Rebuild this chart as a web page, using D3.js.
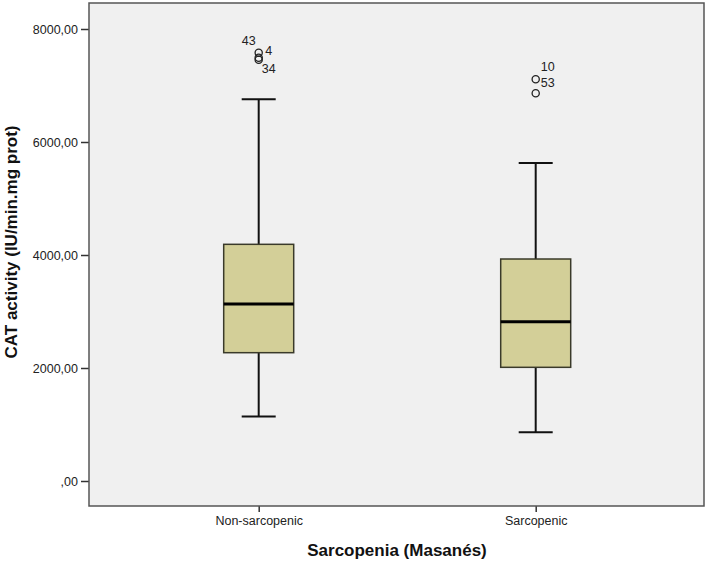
<!DOCTYPE html>
<html>
<head>
<meta charset="utf-8">
<script src="https://cdn.jsdelivr.net/npm/d3@7"></script>
<style>
  body { margin: 0; background: #fff; }
  text { font-family: "Liberation Sans", Arial, sans-serif; }
</style>
</head>
<body>
<div id="plot"></div>
<script>
// box plot data
const groups = ["Non-sarcopenic", "Sarcopenic"];
const whiskerLow = [1140, 862];
const q1 = [2271, 2012];
const median = [3133, 2819];
const q3 = [4189, 3929];
const whiskerHigh = [6755, 5628];
const outlierValues = [[7580, 7490, 7455], [7110, 6862]];
const yTicks = [0, 2000, 4000, 6000, 8000];

const w = 709;
const h = 562;
const plot = {left: 89, right: 704, top: 3, bottom: 506};

const svg = d3.select("div#plot")
    .append("svg")
    .attr("width", w)
    .attr("height", h);

const yScale = d3.scaleLinear()
    .domain([0, 8000])
    .range([481, 29]);

const xScale = d3.scalePoint()
    .domain(groups)
    .range([258.7, 535.7]);

const locale = d3.formatLocale({decimal: ",", thousands: "", grouping: [3], currency: ["", ""]});
const fmt = v => locale.format(".2f")(v).replace(/^0,/, ",");

svg.append("rect")
    .attr("x", plot.left)
    .attr("y", plot.top)
    .attr("width", plot.right - plot.left)
    .attr("height", plot.bottom - plot.top)
    .attr("fill", "#f0f0f0");

// y axis
const yAxis = d3.axisLeft(yScale)
    .tickValues(yTicks)
    .tickSize(8)
    .tickPadding(3)
    .tickFormat(fmt);

const gy = svg.append("g")
    .attr("transform", `translate(${plot.left},0)`)
    .call(yAxis);
gy.select(".domain").remove();
gy.selectAll("line").attr("stroke", "#333").attr("stroke-width", 1.5);
gy.selectAll("text").attr("font-size", 12.5).attr("fill", "#222")
    .attr("font-family", "Liberation Sans, Arial, sans-serif");

// x axis
const xAxis = d3.axisBottom(xScale)
    .tickSize(6)
    .tickPadding(4);

const gx = svg.append("g")
    .attr("transform", `translate(0,${plot.bottom})`)
    .call(xAxis);
gx.select(".domain").remove();
gx.selectAll("line").attr("stroke", "#333").attr("stroke-width", 1.5);
gx.selectAll("text").attr("font-size", 12.5).attr("fill", "#222")
    .attr("font-family", "Liberation Sans, Arial, sans-serif");

// frame
svg.append("rect")
    .attr("x", plot.left)
    .attr("y", plot.top)
    .attr("width", plot.right - plot.left)
    .attr("height", plot.bottom - plot.top)
    .attr("fill", "none")
    .attr("stroke", "#555")
    .attr("stroke-width", 1.5);

const boxW = 70;
const capW = 34;

const boxes = svg.append("g").selectAll("g")
    .data(groups)
    .join("g");

// whiskers
boxes.append("line")
    .attr("x1", d => xScale(d))
    .attr("x2", d => xScale(d))
    .attr("y1", (d, i) => yScale(whiskerHigh[i]))
    .attr("y2", (d, i) => yScale(q3[i]))
    .attr("stroke", "#111").attr("stroke-width", 2);
boxes.append("line")
    .attr("x1", d => xScale(d))
    .attr("x2", d => xScale(d))
    .attr("y1", (d, i) => yScale(q1[i]))
    .attr("y2", (d, i) => yScale(whiskerLow[i]))
    .attr("stroke", "#111").attr("stroke-width", 2);
// caps
boxes.append("line")
    .attr("x1", d => xScale(d) - capW / 2)
    .attr("x2", d => xScale(d) + capW / 2)
    .attr("y1", (d, i) => yScale(whiskerHigh[i]))
    .attr("y2", (d, i) => yScale(whiskerHigh[i]))
    .attr("stroke", "#111").attr("stroke-width", 2);
boxes.append("line")
    .attr("x1", d => xScale(d) - capW / 2)
    .attr("x2", d => xScale(d) + capW / 2)
    .attr("y1", (d, i) => yScale(whiskerLow[i]))
    .attr("y2", (d, i) => yScale(whiskerLow[i]))
    .attr("stroke", "#111").attr("stroke-width", 2);

// box
boxes.append("rect")
    .attr("x", d => xScale(d) - boxW / 2)
    .attr("y", (d, i) => yScale(q3[i]))
    .attr("width", boxW)
    .attr("height", (d, i) => yScale(q1[i]) - yScale(q3[i]))
    .attr("fill", "#d3cf98")
    .attr("stroke", "#3a3a2a")
    .attr("stroke-width", 1.5);

// median
boxes.append("line")
    .attr("x1", d => xScale(d) - boxW / 2)
    .attr("x2", d => xScale(d) + boxW / 2)
    .attr("y1", (d, i) => yScale(median[i]))
    .attr("y2", (d, i) => yScale(median[i]))
    .attr("stroke", "#000").attr("stroke-width", 3);

// outliers
groups.forEach((g, i) => {
  outlierValues[i].forEach(v => {
    svg.append("circle")
        .attr("cx", xScale(g))
        .attr("cy", yScale(v))
        .attr("r", 3.6)
        .attr("fill", "none")
        .attr("stroke", "#222")
        .attr("stroke-width", 1.3);
  });
});
// point ids: label, group, outlier index, offset
const ids = [["43", 0, 0, -10, -12], ["4", 0, 1, 10, -7], ["34", 0, 2, 10, 9],
             ["53", 1, 0, 12, 3.5], ["10", 1, 0, 12, -12.5]];
ids.forEach(([lab, gi, oi, dx, dy]) => {
  svg.append("text")
      .attr("x", xScale(groups[gi]) + dx)
      .attr("y", yScale(outlierValues[gi][oi]) + dy)
      .attr("dy", "0.35em")
      .attr("text-anchor", "middle")
      .attr("font-size", 12.5)
      .attr("fill", "#222")
      .text(lab);
});

// axis titles
svg.append("text")
    .attr("x", 397)
    .attr("y", 556)
    .attr("text-anchor", "middle")
    .attr("font-size", 17)
    .attr("font-weight", "bold")
    .attr("fill", "#111")
    .text("Sarcopenia (Masanés)");

svg.append("text")
    .attr("transform", "translate(17,242) rotate(-90)")
    .attr("text-anchor", "middle")
    .attr("font-size", 17)
    .attr("font-weight", "bold")
    .attr("fill", "#111")
    .text("CAT activity (IU/min.mg prot)");
</script>
</body>
</html>
